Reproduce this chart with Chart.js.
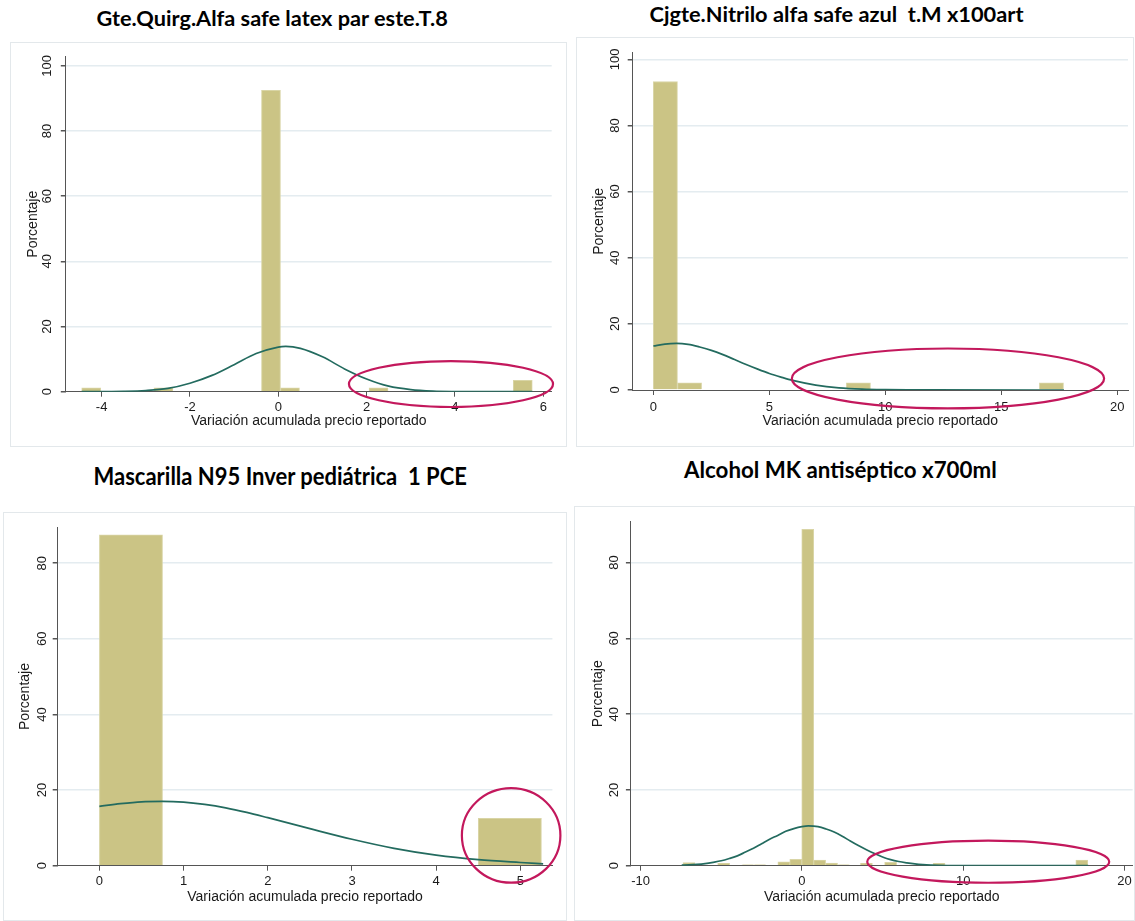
<!DOCTYPE html>
<html><head><meta charset="utf-8">
<script src="https://cdn.jsdelivr.net/npm/chart.js@4.4.1/dist/chart.umd.min.js"></script>
<style>
html,body{margin:0;padding:0;background:#fff;}
body{width:1135px;height:921px;position:relative;overflow:hidden;}
.box{position:absolute;outline:1px solid #e3e8eb;outline-offset:-1px;}
.box canvas{position:absolute;left:0;top:0;}
.ttl{position:absolute;font-family:Lato,'Noto Sans',sans-serif;font-weight:700;white-space:pre;color:#000;transform-origin:center center;}
</style></head><body>
<script>
// ---------------- data ----------------
const titleP1 = 'Gte.Quirg.Alfa safe latex par este.T.8';
const titleP2 = 'Cjgte.Nitrilo alfa safe azul  t.M x100art';
const titleP3 = 'Mascarilla N95 Inver pediátrica  1 PCE';
const titleP4 = 'Alcohol MK antiséptico x700ml';
const X_TITLE = 'Variación acumulada precio reportado';
const Y_TITLE = 'Porcentaje';

const yTicks100 = [0, 20, 40, 60, 80, 100];
const yTicks80 = [0, 20, 40, 60, 80];

// Panel 1
const p1BinCenters = [-4.235, -2.6, -0.165, 0.265, 2.27, 5.535];
const p1Percent    = [1.2, 1.2, 92.5, 1.2, 1.2, 3.5];
const p1NormX = [-4.45, -4, -3.5, -3, -2.5, -2, -1.5, -1, -0.5, 0, 0.17, 0.5, 1, 1.5, 2, 2.5, 3, 3.5, 4, 4.5, 5.75];
const p1NormY = [0.01, 0.03, 0.1, 0.35, 1.0, 2.6, 5.0, 8.3, 11.7, 13.7, 13.9, 13.3, 10.7, 7.0, 3.9, 1.7, 0.65, 0.2, 0.05, 0.01, 0];
const p1XTicks = [-4, -2, 0, 2, 4, 6];

// Panel 2
const p2BinCenters = [0.52, 1.56, 8.84, 17.16];
const p2Percent    = [93.3, 2.2, 2.2, 2.2];
const p2NormX = [0, 0.5, 1, 1.5, 2, 2.5, 3, 3.5, 4, 4.5, 5, 5.5, 6, 7, 8, 9, 10, 11, 12, 17.7];
const p2NormY = [13.3, 13.9, 14.1, 13.8, 13.0, 12.0, 10.7, 9.2, 7.7, 6.3, 5.0, 3.9, 2.9, 1.5, 0.67, 0.27, 0.1, 0.03, 0.01, 0];
const p2XTicks = [0, 5, 10, 15, 20];

// Panel 3
const p3BinCenters = [0.375, 1.125, 1.875, 2.625, 3.375, 4.125, 4.875];
const p3Percent    = [87.5, 0, 0, 0, 0, 0, 12.5];
const p3NormX = [0, 0.25, 0.5, 0.75, 1, 1.25, 1.5, 1.75, 2, 2.5, 3, 3.5, 4, 4.5, 5, 5.27];
const p3NormY = [15.7, 16.4, 16.9, 17.0, 16.8, 16.2, 15.3, 14.1, 12.7, 9.8, 7.0, 4.6, 2.8, 1.6, 0.85, 0.5];
const p3XTicks = [0, 1, 2, 3, 4, 5];

// Panel 4
const p4BinCenters = [-7.0, -4.85, -3.35, -2.6, -1.12, -0.38, 0.36, 1.1, 1.84, 2.58, 4.0, 5.5, 8.5, 17.35];
const p4Percent    = [0.8, 0.6, 0.2, 0.2, 1.0, 1.7, 88.8, 1.5, 0.7, 0.25, 0.6, 0.9, 0.6, 1.5];
const p4NormX = [-7.45, -7, -6.5, -6, -5.5, -5, -4.5, -4, -3.5, -3, -2.5, -2, -1.5, -1, -0.5, 0, 0.4, 1, 1.5, 2, 2.5, 3, 3.5, 4, 4.5, 5, 5.5, 6, 6.5, 7, 7.5, 8, 9, 10, 17.75];
const p4NormY = [0.15, 0.21, 0.35, 0.57, 0.9, 1.3, 1.9, 2.6, 3.6, 4.6, 5.8, 7.0, 8.0, 9.1, 9.8, 10.3, 10.5, 10.3, 9.7, 8.9, 7.8, 6.5, 5.3, 4.2, 3.2, 2.3, 1.6, 1.1, 0.75, 0.47, 0.28, 0.17, 0.05, 0.01, 0];
const p4XTicks = [-10, 0, 10, 20];

// ---------------- styles / layout ----------------
const BAR = '#cbc485', BAR_EDGE = '#d9d5a6', CURVE = '#236b5f', RING = '#c3185c';
const GRID = '#e4ecf0', AXIS = '#555555', TXT = '#1a1a1a';
const FONT = "'Liberation Sans', Arial, sans-serif";
const TICK_FS = 13, AXT_FS = 14, TL = 5;

const panels = [
  { bins: p1BinCenters, pct: p1Percent, nx: p1NormX, ny: p1NormY, xticks: p1XTicks, yticks: yTicks100,
    xr: [-4.81, 6.19], yr: [0, 102.8], box: [10, 42, 557, 405], area: [65.8, 551.7, 56.7, 391.7],
    yTitleX: 33, xTitleY: 420.7, xTickY: 407.7, yTickX: 47.5, ell: [3.91, 2.36, 2.31, 7.05] },
  { bins: p2BinCenters, pct: p2Percent, nx: p2NormX, ny: p2NormY, xticks: p2XTicks, yticks: yTicks100,
    xr: [-0.89, 20.46], yr: [0, 102.0], box: [576, 37, 558, 410], area: [632.7, 1128, 52.7, 390],
    yTitleX: 599, xTitleY: 420.7, xTickY: 407.7, yTickX: 615.3, ell: [12.7, 3.5, 6.73, 9.05] },
  { bins: p3BinCenters, pct: p3Percent, nx: p3NormX, ny: p3NormY, xticks: p3XTicks, yticks: yTicks80,
    xr: [-0.495, 5.38], yr: [0, 89.5], box: [3, 512, 564, 409], area: [57.7, 552.4, 527.3, 865.7],
    yTitleX: 24.8, xTitleY: 896.7, xTickY: 881.7, yTickX: 42, ell: [4.89, 8.0, 0.585, 12.5] },
  { bins: p4BinCenters, pct: p4Percent, nx: p4NormX, ny: p4NormY, xticks: p4XTicks, yticks: yTicks80,
    xr: [-10.6, 20.5], yr: [0, 90.8], box: [574, 506, 561, 415], area: [630.9, 1133, 521.7, 865.7],
    yTitleX: 598.3, xTitleY: 896.7, xTickY: 881.7, yTickX: 614.2, ell: [11.55, 1.05, 7.5, 5.55] }
];

const titleSpecs = [
  { text: titleP1, cx: 272, capCy: 18.5, fs: 20.8, w: 351 },
  { text: titleP2, cx: 836, capCy: 14.5, fs: 20.8, w: 374 },
  { text: titleP3, cx: 280, capCy: 476, fs: 25, w: 373 },
  { text: titleP4, cx: 840, capCy: 470.5, fs: 23.6, w: 313 }
];

const measureCtx = document.createElement('canvas').getContext('2d');
function textW(t, fs) { measureCtx.font = fs + 'px ' + FONT; return measureCtx.measureText(t).width; }

Chart.defaults.font.family = FONT;

const ringPlugin = {
  id: 'ring',
  afterDraw(chart, args, opts) {
    const e = opts.e; if (!e) return;
    const xs = chart.scales.x, ys = chart.scales.y, ctx = chart.ctx;
    const cx = xs.getPixelForValue(e[0]), cy = ys.getPixelForValue(e[1]);
    const rx = Math.abs(xs.getPixelForValue(e[0] + e[2]) - cx);
    const ry = Math.abs(ys.getPixelForValue(e[1] + e[3]) - cy);
    ctx.save();
    ctx.beginPath();
    ctx.ellipse(cx, cy, rx, ry, 0, 0, Math.PI * 2);
    ctx.strokeStyle = RING; ctx.lineWidth = 2.2;
    ctx.stroke();
    ctx.restore();
  }
};

panels.forEach(p => {
  const [bl, bt, bw, bh] = p.box;
  const div = document.createElement('div');
  div.className = 'box';
  div.style.cssText = `left:${bl}px;top:${bt}px;width:${bw}px;height:${bh}px;`;
  const cv = document.createElement('canvas');
  cv.width = bw; cv.height = bh; cv.style.width = bw + 'px'; cv.style.height = bh + 'px';
  div.appendChild(cv); document.body.appendChild(div);

  const cl = p.area[0] - bl, cr = p.area[1] - bl, ct = p.area[2] - bt, cb = p.area[3] - bt;
  const half = AXT_FS * 1.2 / 2;
  const yLeft = p.yTitleX - bl - half;
  const yW = cl - yLeft;
  const xBottom = p.xTitleY - bt + half;
  const xH = xBottom - cb;
  const xPad = (p.xTickY - p.area[3]) - TL - TICK_FS * 1.2 / 2;
  const widest = Math.max(...p.yticks.map(v => textW(String(v), TICK_FS)));
  const yPad = (p.area[0] - p.yTickX) - TL - widest / 2;

  new Chart(cv, {
    type: 'bar',
    data: { datasets: [
      { type: 'line', data: p.nx.map((x, k) => ({ x, y: p.ny[k] })), borderColor: CURVE, borderWidth: 1.7,
        pointRadius: 0, cubicInterpolationMode: 'monotone', fill: false, order: 0 },
      { type: 'bar', data: p.bins.map((x, k) => ({ x, y: p.pct[k] })), backgroundColor: BAR,
        borderColor: BAR_EDGE, borderWidth: 1, categoryPercentage: 1, barPercentage: 1, order: 1 }
    ]},
    options: {
      responsive: false, animation: false, devicePixelRatio: 1,
      layout: { padding: { left: yLeft, right: bw - cr, top: ct, bottom: bh - xBottom } },
      plugins: { legend: { display: false }, tooltip: { enabled: false }, ring: { e: p.ell } },
      scales: {
        x: { type: 'linear', min: p.xr[0], max: p.xr[1], offset: false,
          afterBuildTicks: s => { s.ticks = p.xticks.map(v => ({ value: v })); },
          afterFit: s => { s.height = xH; },
          grid: { display: true, drawOnChartArea: false, drawTicks: true, tickLength: TL, tickColor: AXIS, offset: false },
          border: { display: true, color: AXIS, width: 1 },
          ticks: { autoSkip: false, maxRotation: 0, minRotation: 0, padding: xPad, color: TXT, font: { size: TICK_FS } },
          title: { display: true, text: X_TITLE, color: TXT, font: { size: AXT_FS }, padding: 0 } },
        y: { type: 'linear', min: p.yr[0], max: p.yr[1],
          afterBuildTicks: s => { s.ticks = p.yticks.map(v => ({ value: v })); },
          afterFit: s => { s.width = yW; },
          grid: { color: c => (c.tick && c.tick.value === 0) ? 'rgba(0,0,0,0)' : GRID, lineWidth: 1.5,
            drawTicks: true, tickLength: TL, tickColor: AXIS },
          border: { display: true, color: AXIS, width: 1 },
          ticks: { autoSkip: false, minRotation: 90, maxRotation: 90, crossAlign: 'center', padding: yPad, color: TXT, font: { size: TICK_FS } },
          title: { display: true, text: Y_TITLE, color: TXT, font: { size: AXT_FS }, padding: 0 } }
      }
    },
    plugins: [ringPlugin]
  });
});

titleSpecs.forEach(s => {
  const t = document.createElement('div');
  t.className = 'ttl';
  t.textContent = s.text;
  t.style.fontSize = s.fs + 'px';
  t.style.lineHeight = s.fs + 'px';
  document.body.appendChild(t);
  const w = t.offsetWidth;
  t.style.left = (s.cx - w / 2) + 'px';
  t.style.top = (s.capCy - 0.527 * s.fs) + 'px';
  t.style.transform = `scaleX(${s.w / w})`;
});
</script>
</body></html>
